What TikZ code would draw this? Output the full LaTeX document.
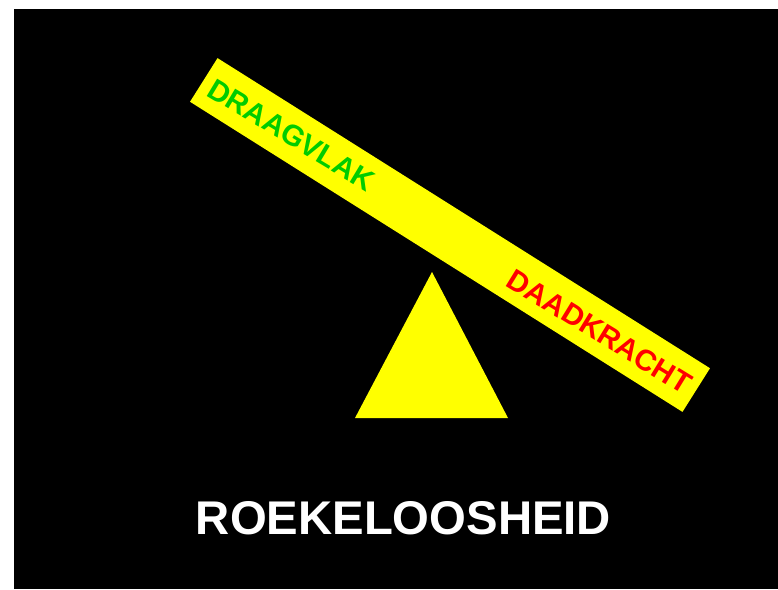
\documentclass[tikz,border=0pt]{standalone}
\usepackage{fontspec}
\setmainfont{Liberation Sans}
\definecolor{plankyellow}{RGB}{255,255,0}
\definecolor{labelgreen}{RGB}{0,204,0}
\definecolor{labelred}{RGB}{255,0,0}
\tikzset{
  plank/.style={fill=plankyellow, draw=none, rotate=-32.2, minimum width=582pt, minimum height=51.6pt, inner sep=0pt},
  planklabel/.style={font=\fontsize{29.5}{31}\selectfont\bfseries, inner sep=0pt, text height=21.1pt, text depth=0pt, anchor=center},
  title/.style={font=\fontsize{47.3}{52}\selectfont\bfseries, text=white, inner sep=0pt, text height=33.9pt, text depth=0pt, anchor=center}
}
\begin{document}
\begin{tikzpicture}[x=1pt,y=-1pt]
\useasboundingbox (0,0) rectangle (778,589);
\fill[white] (0,0) rectangle (778,589);
\fill[black] (14,9) rectangle (778,589);
\node[plank] (board) at (450,235) {};
\fill[plankyellow] (432,272) coordinate (apex) -- (355,418) coordinate (baseL) -- (508,418) coordinate (baseR) -- cycle;
\node[planklabel, text=labelgreen, rotate=-31] (draagvlak) at (291.5,134.5) {DRAAGVLAK};
\node[planklabel, text=labelred, rotate=-31.5] (daadkracht) at (599.5,331) {DAADKRACHT};
\node[title] (roekeloos) at (403.5,517.5) {ROEKELOOSHEID};
\end{tikzpicture}
\end{document}
